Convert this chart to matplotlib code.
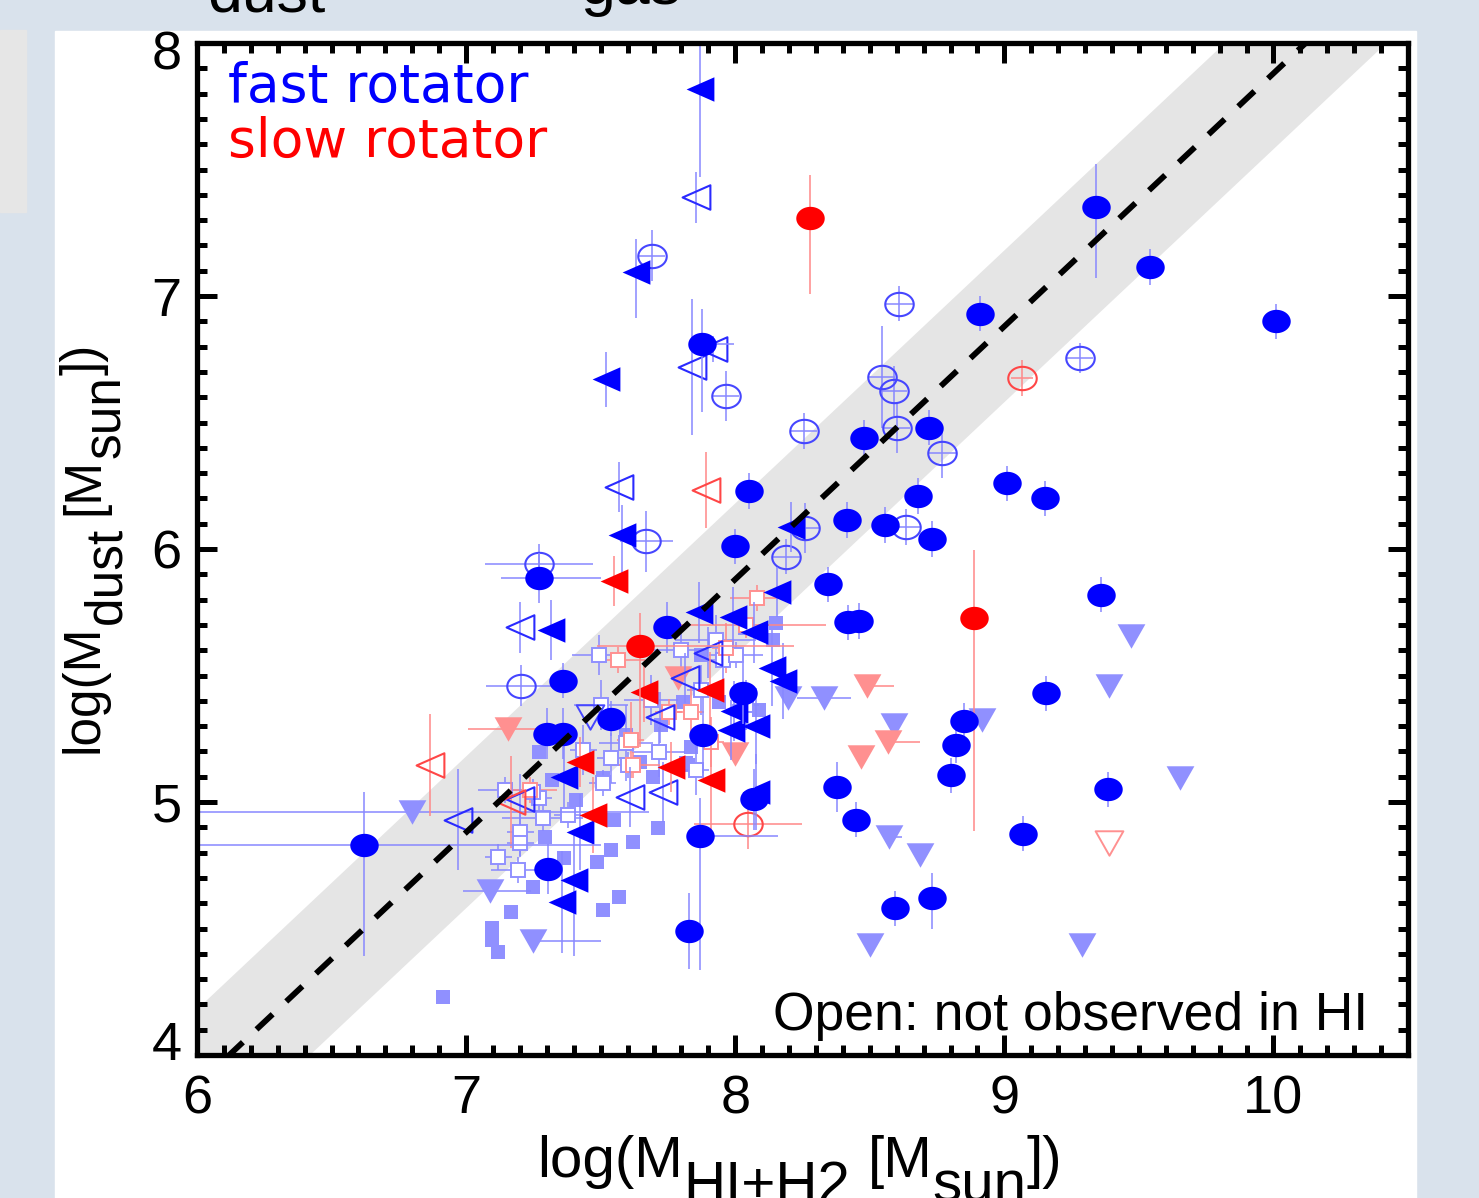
import numpy as np
import matplotlib
matplotlib.use("Agg")
import matplotlib.pyplot as plt
from matplotlib.path import Path
from matplotlib.patches import Rectangle
from matplotlib.ticker import MultipleLocator
from matplotlib.transforms import ScaledTranslation

plt.rcParams['font.family'] = ['Liberation Sans', 'DejaVu Sans']

# ---------------- data (log M_gas, log M_dust) ----------------
# fast rotators, detected, filled circles
fc_x = [9.34, 9.54, 10.01, 8.91, 7.875, 8.48, 8.72, 8.05, 9.01, 9.15, 8.68, 8.415,
        8.555, 8.73, 8.00, 8.345, 7.27, 9.36, 8.42, 8.46, 7.745, 7.36, 7.30, 7.36,
        7.54, 8.03, 9.155, 8.85, 8.82, 8.80, 7.88, 8.38, 8.45, 9.385, 9.07, 8.07,
        7.87, 8.595, 8.73, 7.83, 7.305, 6.62]
fc_y = [7.35, 7.115, 6.90, 6.93, 6.81, 6.44, 6.48, 6.23, 6.26, 6.20, 6.21, 6.115,
        6.095, 6.04, 6.01, 5.86, 5.885, 5.82, 5.71, 5.715, 5.69, 5.48, 5.27, 5.27,
        5.33, 5.43, 5.43, 5.32, 5.225, 5.105, 5.265, 5.06, 4.93, 5.05, 4.875, 5.01,
        4.865, 4.58, 4.62, 4.49, 4.735, 4.83]
fc_ylo = [0.28, .07, .07, .07, 0.27, .07, .07, .07, .07, .07, .07, .07,
          .07, .07, .07, .07, 0.10, .07, .07, .07, 0.10, .07, 0.10, 0.10,
          .07, 0.12, .07, .07, .07, .07, 0.15, 0.10, .07, .07, .07, 0.12,
          0.53, .07, 0.12, 0.15, 0.10, 0.44]
fc_yhi = [0.17, .07, .07, .07, 0.14, .07, .07, .07, .07, .07, .07, .07,
          .07, .07, .07, .07, 0.10, .07, .07, .07, 0.10, .07, 0.10, 0.10,
          .07, 0.12, .07, .07, .07, .07, 0.15, 0.10, .07, .07, .07, 0.12,
          0.15, .07, 0.10, 0.15, 0.10, 0.21]
fc_xlo = [0] * 16 + [0.14] + [0] * 19 + [0.05] + [0] * 4 + [0.62]
fc_xhi = [0] * 4 + [0.12] + [0] * 11 + [0.23] + [0] * 19 + [0.29] + [0] * 4 + [0.88]

# slow rotators, detected, filled circles
sc_x = [8.277, 8.887, 7.648]
sc_y = [7.308, 5.727, 5.617]
sc_ylo = [0.30, 0.84, 0.40]
sc_yhi = [0.17, 0.27, 0.13]
sc_xlo = [0, 0, 0.16]
sc_xhi = [0, 0, 0.57]

# not observed in HI (open circles)
fo_x = [7.69, 8.61, 7.965, 8.255, 8.545, 8.59, 8.60, 8.77, 9.28, 8.635, 8.26, 8.19,
        7.67, 7.27, 7.205]
fo_y = [7.16, 6.97, 6.605, 6.466, 6.68, 6.625, 6.48, 6.38, 6.755, 6.087, 6.083, 5.97,
        6.03, 5.94, 5.46]
fo_ey = [0.10, 0.07, 0.10, 0.07, 0.20, 0.10, 0.10, 0.10, 0.06, 0.07, 0.10, 0.07,
         0.12, 0.08, 0.08]
fo_ex = [0.05, 0.05, 0.05, 0.05, 0.05, 0.05, 0.05, 0.05, 0.05, 0.05, 0.05, 0.05,
         0.10, 0.20, 0.13]
so_x = [9.066, 8.047]
so_y = [6.676, 4.913]
so_ey = [0.07, 0.10]
so_ex = [0.04, 0.20]

# filled left triangles
ft_x = [7.87, 7.63, 7.52, 7.58, 7.317, 8.206, 8.155, 7.865, 7.99, 8.07, 8.135, 8.177,
        7.995, 8.076, 7.983, 8.076, 7.362, 7.425, 7.40, 7.355]
ft_y = [7.82, 7.095, 6.67, 6.055, 5.68, 6.087, 5.83, 5.75, 5.73, 5.67, 5.53, 5.48,
        5.36, 5.30, 5.285, 5.04, 5.10, 4.88, 4.69, 4.605]
ft_ylo = [0.35, 0.18, 0.11, 0.18, 0.12, 0.10, 0.10, 0.12, 0.12, 0.12, 0.15, 0.15,
          0.12, 0.15, 0.12, 0.15, 0.12, 0.15, 0.30, 0.20]
ft_yhi = [0.18, 0.13, 0.11, 0.12, 0.12, 0.10, 0.10, 0.12, 0.12, 0.12, 0.15, 0.15,
          0.12, 0.15, 0.12, 0.15, 0.12, 0.15, 0.20, 0.20]
st_x = [7.548, 7.66, 7.905, 7.425, 7.473, 7.76, 7.91]
st_y = [5.873, 5.435, 5.443, 5.158, 4.95, 5.138, 5.087]
st_ey = [0.10, 0.12, 0.15, 0.10, 0.15, 0.10, 0.20]

# open left triangles
fot_x = [7.853, 7.916, 7.84, 7.567, 7.20, 6.97, 7.20, 7.90, 7.815, 7.72, 7.61, 7.73]
fot_y = [7.39, 6.79, 6.72, 6.245, 5.69, 4.93, 5.01, 5.59, 5.49, 5.335, 5.02, 5.04]
fot_ey = [0.10, 0.05, 0.27, 0.10, 0.10, 0.20, 0.10, 0.10, 0.10, 0.10, 0.12, 0.12]
sot_x = [6.867, 7.165, 7.89]
sot_y = [5.146, 5.0, 6.233]
sot_ey = [0.20, 0.18, 0.15]

# upper limits (down triangles)
fu_x = [6.80, 7.09, 7.25, 8.195, 8.33, 8.59, 8.57, 8.687, 8.50, 9.47, 9.39, 9.654,
        9.29, 8.917]
fu_y = [4.96, 4.65, 4.45, 5.41, 5.41, 5.305, 4.86, 4.79, 4.435, 5.656, 5.46, 5.095,
        4.435, 5.324]
fu_xlo = [0.80, 0.10, 0, 0, 0.10, 0, 0, 0, 0, 0, 0, 0, 0, 0]
fu_xhi = [0.88, 0.15, 0.25, 0, 0.10, 0, 0.05, 0, 0, 0, 0, 0, 0, 0]
su_x = [7.157, 8.49, 8.567, 8.467, 7.786, 8.0]
su_y = [5.29, 5.46, 5.237, 5.178, 5.49, 5.19]
su_xlo = [0.15, 0, 0, 0, 0, 0]
su_xhi = [0.15, 0.10, 0.12, 0, 0, 0]
fuo_x, fuo_y = [7.46], [5.336]
suo_x, suo_y = [9.39], [4.838]

# comparison sample (squares)
sq_x = [7.269, 7.295, 7.488, 7.622, 7.567, 7.507, 7.165, 7.098, 7.098, 7.12, 7.712,
        7.537, 7.407, 7.548, 7.507, 7.693, 7.816, 7.25, 7.362, 7.321, 6.915, 8.151,
        8.14, 7.805, 7.834, 7.823, 7.723, 7.939, 7.648, 7.593, 7.872, 8.035, 8.087]
sq_y = [5.198, 4.862, 4.763, 4.842, 4.625, 4.573, 4.565, 4.502, 4.455, 4.407, 4.897,
        4.81, 5.008, 4.929, 5.095, 5.099, 5.154, 4.664, 4.779, 5.087, 4.229, 5.708,
        5.64, 5.395, 5.217, 5.146, 5.304, 5.395, 5.158, 5.265, 5.581, 5.688, 5.364]
osq_x = [7.492, 7.537, 7.146, 7.269, 7.284, 7.202, 7.202, 7.12, 7.194, 7.377, 7.507,
         7.593, 7.436, 7.6, 7.247, 7.715, 7.927, 7.953, 7.797, 7.872, 8.002, 7.686,
         8.039, 7.853, 7.5]
osq_y = [5.581, 5.174, 5.047, 5.016, 4.937, 4.881, 4.838, 4.783, 4.731, 4.949, 5.075,
         5.233, 5.206, 5.146, 5.04, 5.198, 5.64, 5.561, 5.601, 5.443, 5.581, 5.403,
         5.383, 5.126, 5.383]
osq_ex = [0.10, 0.05, 0.10, 0.05, 0.15, 0.05, 0.05, 0.05, 0.10, 0.05, 0.05, 0.10, 0.05,
          0.05, 0.05, 0.10, 0.15, 0.05, 0.10, 0.05, 0.10, 0.10, 0.05, 0.05, 0.10]
osq_ey = [0.08, 0.10, 0.05, 0.05, 0.05, 0.10, 0.05, 0.05, 0.05, 0.05, 0.05, 0.15, 0.10,
          0.05, 0.05, 0.10, 0.10, 0.10, 0.10, 0.10, 0.05, 0.10, 0.10, 0.10, 0.10]
rsq_x = [7.965, 8.039, 7.611, 7.619, 7.239, 7.834, 7.753, 7.563, 8.08, 7.91]
rsq_y = [5.609, 5.70, 5.245, 5.146, 5.047, 5.356, 5.356, 5.561, 5.806, 5.237]
rsq_ex = [0.05, 0.30, 0.05, 0.10, 0.10, 0.05, 0.05, 0.10, 0.10, 0.05]
rsq_ey = [0.10, 0.05, 0.15, 0.05, 0.05, 0.10, 0.05, 0.05, 0.05, 0.10]

# dust-to-gas relation and its scatter
rel_offset = -2.12
rel_scatter = 0.3

BLUE, LBLUE, EBLUE, OBLUE = '#0000ff', '#9090ff', '#8888ff', '#4646ff'
RED, LRED, ERED, ORED = '#ff0000', '#ff9090', '#ff8888', '#ff4646'

# marker shapes (IDL-like, slightly squashed)
t = np.linspace(0, 2 * np.pi, 61)
ELLIPSE = Path(np.column_stack([np.cos(t), 0.82 * np.sin(t)]), closed=True)
TRI_LEFT = Path([(-0.5, 0), (0.5, 0.44), (0.5, -0.44), (-0.5, 0)], closed=True)
TRI_DOWN = Path([(-0.5, 0.44), (0.5, 0.44), (0, -0.44), (-0.5, 0.44)], closed=True)

fig = plt.figure(figsize=(14.79, 11.98), dpi=100)
fig.patch.set_facecolor('#d9e2ec')
fig.add_artist(Rectangle((55 / 1479, 0), 1361 / 1479, 1167 / 1198,
                         transform=fig.transFigure, color='white', zorder=0))
fig.add_artist(Rectangle((0, 1 - 212 / 1198), 26 / 1479, 182 / 1198,
                         transform=fig.transFigure, color='#e6e6e6', zorder=0))
fig.text(207 / 1479, 1 - 12 / 1198, 'dust', fontsize=45, va='baseline')
fig.text(580 / 1479, 1 - 4 / 1198, 'gas', fontsize=45, va='baseline')

ax = fig.add_axes([197 / 1479, 1 - 1055 / 1198, 1211 / 1479, 1012 / 1198])
ax.set_xlim(6, 10.5)
ax.set_ylim(4, 8)

xl = np.array([6.0, 10.5])
ax.fill_between(xl, xl + rel_offset - rel_scatter, xl + rel_offset + rel_scatter,
                color='#e5e5e5', lw=0, zorder=0.5)
ax.plot(xl, xl + rel_offset, color='black', lw=4.2, ls=(0, (3.8, 3.2)), zorder=6)


def draw(x, y, marker, ms, face, edge, ecol, xerr=None, yerr=None, mew=0.0, z=3):
    if xerr is not None or yerr is not None:
        ax.errorbar(x, y, xerr=xerr, yerr=yerr, fmt='none', ecolor=ecol,
                    elinewidth=1.1, capsize=0, zorder=z - 0.05)
    ax.plot(x, y, ls='none', marker=marker, ms=ms, mfc=face, mec=edge, mew=mew, zorder=z)


# comparison squares
draw(sq_x, sq_y, 's', 9.5, LBLUE, LBLUE, EBLUE, z=2.0)
draw(osq_x, osq_y, 's', 10.5, 'white', LBLUE, EBLUE, xerr=osq_ex, yerr=osq_ey, mew=1.4, z=2.1)
draw(rsq_x, rsq_y, 's', 10.5, 'white', LRED, ERED, xerr=rsq_ex, yerr=rsq_ey, mew=1.4, z=2.1)

# upper limits
draw(fu_x, fu_y, TRI_DOWN, 20, LBLUE, LBLUE, EBLUE, xerr=[fu_xlo, fu_xhi], z=2.4)
draw(su_x, su_y, TRI_DOWN, 20, LRED, LRED, ERED, xerr=[su_xlo, su_xhi], z=2.4)
draw(fuo_x, fuo_y, TRI_DOWN, 20, 'none', OBLUE, EBLUE, mew=1.4, z=2.4)
draw(suo_x, suo_y, TRI_DOWN, 20, 'none', LRED, ERED, mew=1.4, z=2.4)

# open symbols (not observed in HI)
draw(fo_x, fo_y, ELLIPSE, 20.5, 'none', OBLUE, EBLUE, xerr=fo_ex, yerr=fo_ey, mew=1.5, z=2.6)
draw(so_x, so_y, ELLIPSE, 20.5, 'none', ORED, ERED, xerr=so_ex, yerr=so_ey, mew=1.5, z=2.6)
draw(fot_x, fot_y, TRI_LEFT, 20, 'none', '#2a2aff', EBLUE, yerr=fot_ey, mew=1.5, z=2.6)
draw(sot_x, sot_y, TRI_LEFT, 20, 'none', ORED, ERED, yerr=sot_ey, mew=1.5, z=2.6)

# filled symbols
draw(ft_x, ft_y, TRI_LEFT, 20, BLUE, BLUE, EBLUE, yerr=[ft_ylo, ft_yhi], z=3)
draw(st_x, st_y, TRI_LEFT, 20, RED, RED, ERED, yerr=st_ey, z=3)
draw(fc_x, fc_y, ELLIPSE, 20.5, BLUE, BLUE, EBLUE, xerr=[fc_xlo, fc_xhi],
     yerr=[fc_ylo, fc_yhi], z=3.2)
draw(sc_x, sc_y, ELLIPSE, 20.5, RED, RED, ERED, xerr=[sc_xlo, sc_xhi],
     yerr=[sc_ylo, sc_yhi], z=3.2)

# axes styling
for sp in ax.spines.values():
    sp.set_linewidth(3.8)
    sp.set_zorder(7)
ax.xaxis.set_major_locator(MultipleLocator(1))
ax.xaxis.set_minor_locator(MultipleLocator(0.1))
ax.yaxis.set_major_locator(MultipleLocator(1))
ax.yaxis.set_minor_locator(MultipleLocator(0.1))
ax.tick_params(which='both', direction='in', top=True, right=True, width=3.6, zorder=7)
ax.tick_params(which='major', length=14.5)
ax.tick_params(which='minor', length=7)
ax.tick_params(axis='x', labelsize=39, pad=14)
ax.tick_params(axis='y', labelsize=39, pad=11)
ax.set_xticks([6, 7, 8, 9, 10])
ax.set_xticklabels(['6', '7', '8', '9', '10'])
ax.set_yticks([4, 5, 6, 7, 8])
ylabs = ax.set_yticklabels(['4', '5', '6', '7', '8'])
ylabs[0].set_transform(ylabs[0].get_transform() + ScaledTranslation(0, 0.15, fig.dpi_scale_trans))
ylabs[-1].set_transform(ylabs[-1].get_transform() + ScaledTranslation(0, -0.07, fig.dpi_scale_trans))

# legend-like labels
ax.text(0.0256, 0.9417, 'fast rotator', color=BLUE, fontsize=38.5, family='DejaVu Sans',
        transform=ax.transAxes, va='baseline')
ax.text(0.0256, 0.887, 'slow rotator', color=RED, fontsize=38.5, family='DejaVu Sans',
        transform=ax.transAxes, va='baseline')
ax.text(0.967, 0.0247, 'Open: not observed in HI', fontsize=38.5, ha='right',
        va='baseline', transform=ax.transAxes, zorder=8)


def piece_label(pieces, x0, y0, size, vertical=False):
    kw = dict(fontsize=size, ha='left', va='bottom', rotation=90 if vertical else 0)
    prev = fig.text(x0, y0, pieces[0][0], **kw)
    prev_drop = pieces[0][1]
    for s, drop, gap in pieces[1:]:
        d = drop - prev_drop
        if vertical:
            xy, off = (0, 1), (d, gap)
        else:
            xy, off = (1, 0), (gap, -d)
        prev = ax.annotate(s, xy=xy, xycoords=prev, xytext=off,
                           textcoords='offset pixels', annotation_clip=False, **kw)
        prev_drop = drop


piece_label([('log(M', 0, 0), ('HI+H2', 25, 0), ('[M', 0, 18), ('sun', 25, 0), ('])', 0, 0)],
            537 / 1479, 9 / 1198, 42)
piece_label([('log(M', 0, 0), ('dust', 22, 0), ('[M', 0, 12), ('sun', 22, 0), ('])', 0, 0)],
            60 / 1479, 1 - 753 / 1198, 37, vertical=True)

fig.savefig('out.png', dpi=100, facecolor=fig.get_facecolor())
